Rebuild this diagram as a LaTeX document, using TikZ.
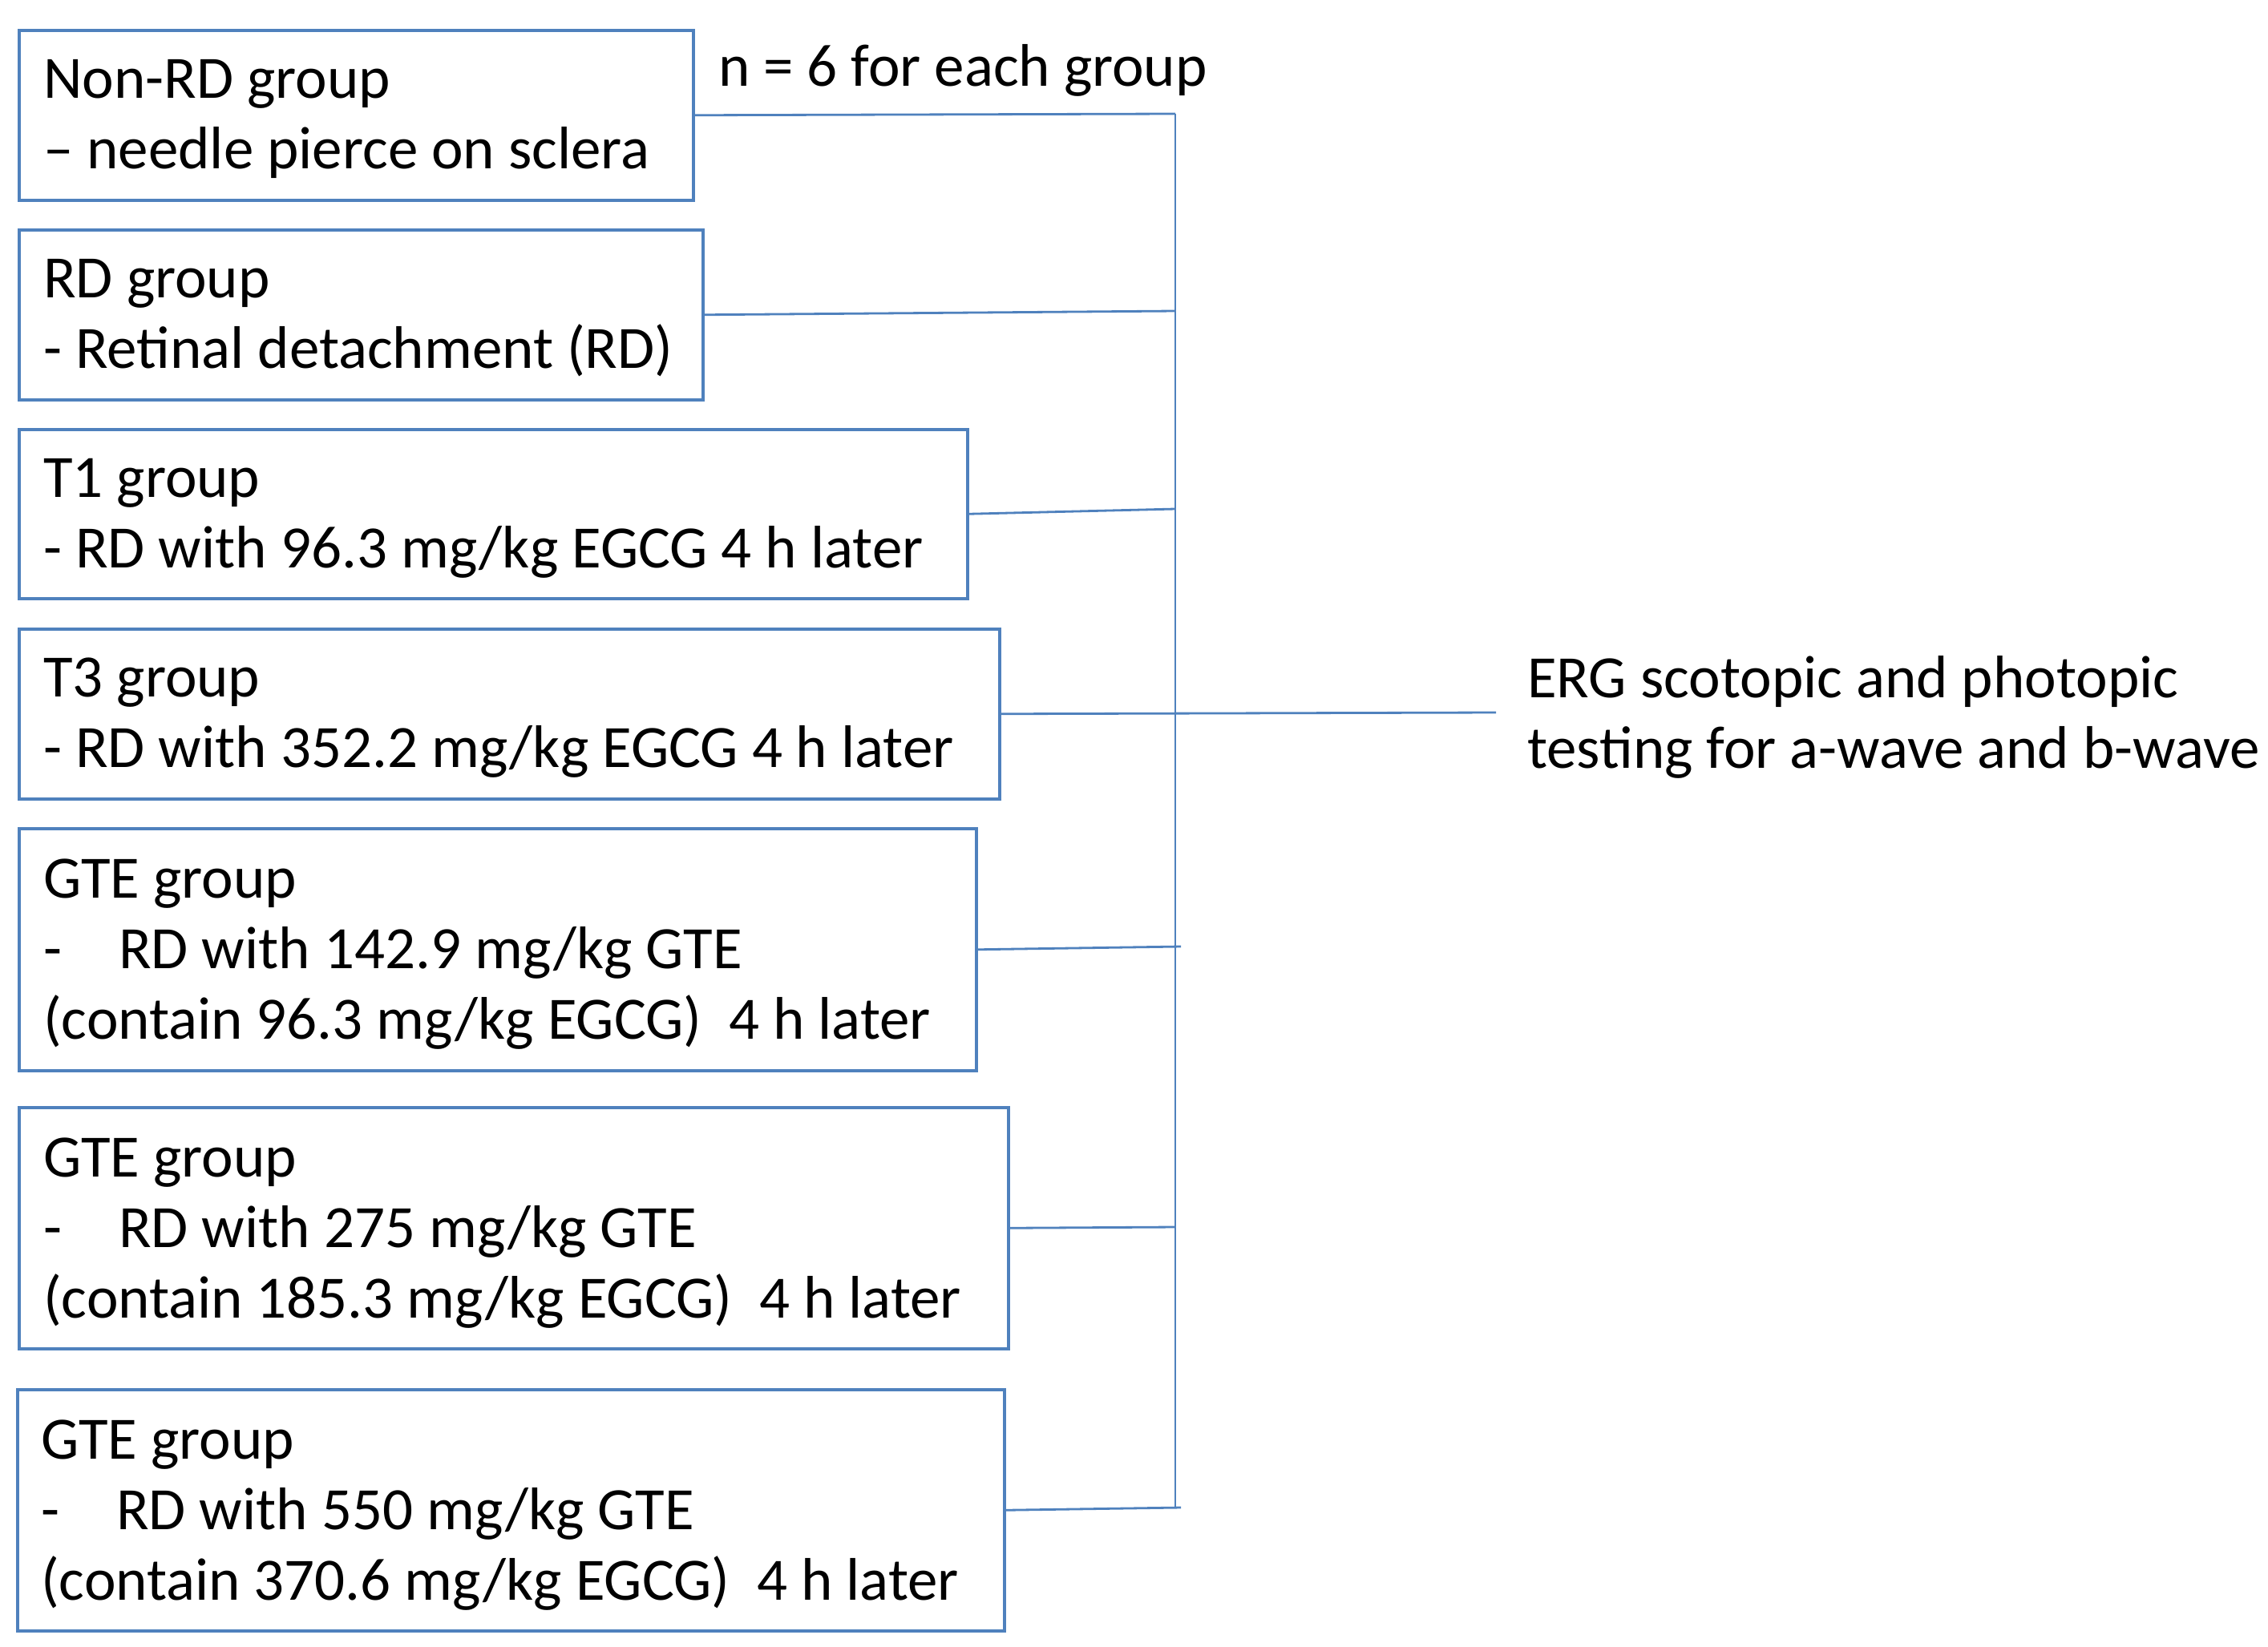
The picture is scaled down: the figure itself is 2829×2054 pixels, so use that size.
\documentclass[tikz,border=0pt]{standalone}
\usepackage{fontspec}
\setmainfont{Carlito}
\usetikzlibrary{calc}
\definecolor{lineblue}{RGB}{79,129,189}
\begin{document}
\begin{tikzpicture}[x=1pt,y=-1pt,
  grpbox/.style={draw=lineblue, line width=3.5pt, inner sep=0pt, anchor=north west},
  grptext/.style={anchor=north west, inner sep=0pt, align=left, font=\fontsize{75}{88}\selectfont},
  conn/.style={draw=lineblue, line width=2.8pt},
  plain/.style={inner sep=0pt, font=\fontsize{75}{88}\selectfont}]
\useasboundingbox (0,0) rectangle (2829,2054);
% boxes
\node[grpbox, minimum width=841pt, minimum height=212pt] (b1) at (22,36) {};
\node[grpbox, minimum width=853pt, minimum height=212pt] (b2) at (22,285) {};
\node[grpbox, minimum width=1183pt, minimum height=211pt] (b3) at (22,534) {};
\node[grpbox, minimum width=1223pt, minimum height=212pt] (b4) at (22,783) {};
\node[grpbox, minimum width=1194pt, minimum height=302pt] (b5) at (22,1032) {};
\node[grpbox, minimum width=1234pt, minimum height=301pt] (b6) at (22,1380) {};
\node[grpbox, minimum width=1231pt, minimum height=301pt] (b7) at (20,1732) {};
% texts
\node[grptext] (t1) at (54,62) {\rule{0pt}{60pt}Non-RD group\\– needle pierce on sclera};
\node[grptext] (t2) at (54,311) {\rule{0pt}{60pt}RD group\\- Retinal detachment (RD)};
\node[grptext] (t3) at (54,560) {\rule{0pt}{60pt}T1 group\\- RD with 96.3 mg/kg EGCG 4 h later};
\node[grptext] (t4) at (54,809) {\rule{0pt}{60pt}T3 group\\- RD with 352.2 mg/kg EGCG 4 h later};
\node[grptext] (t5) at (54,1060) {\rule{0pt}{60pt}GTE group\\\makebox[94pt][l]{-}RD with 142.9 mg/kg GTE\\(contain 96.3 mg/kg EGCG)\ \ 4 h later};
\node[grptext] (t6) at (54,1408) {\rule{0pt}{60pt}GTE group\\\makebox[94pt][l]{-}RD with 275 mg/kg GTE\\(contain 185.3 mg/kg EGCG)\ \ 4 h later};
\node[grptext] (t7) at (51,1760) {\rule{0pt}{60pt}GTE group\\\makebox[94pt][l]{-}RD with 550 mg/kg GTE\\(contain 370.6 mg/kg EGCG)\ \ 4 h later};
\node[plain, anchor=base west] (n6) at (896,107) {n = 6 for each group};
\node[plain, anchor=north west, align=left] (erg) at (1905,810) {\rule{0pt}{60pt}ERG scotopic and photopic\\testing for a-wave and b-wave};
% junction points
\coordinate (j1) at (1466,142);
\coordinate (j2) at (1466,388);
\coordinate (j3) at (1466,635);
\coordinate (j4) at (1466,889);
\coordinate (j5) at (1473,1181);
\coordinate (j6) at (1466,1531);
\coordinate (j7) at (1473,1881);
\coordinate (jb) at (1466,1881);
\coordinate (e) at (1866,889);
% connectors
\draw[conn] (b1.east) -- (j1);
\draw[conn] (b2.east) -- (j2);
\draw[conn] (b3.east) -- (j3);
\draw[conn] (b4.east) -- (e);
\draw[conn] (b5.east) -- (j5);
\draw[conn] (b6.east) -- (j6);
\draw[conn] (b7.east) -- (j7);
\draw[conn] (j1) -- (jb);
\end{tikzpicture}
\end{document}
